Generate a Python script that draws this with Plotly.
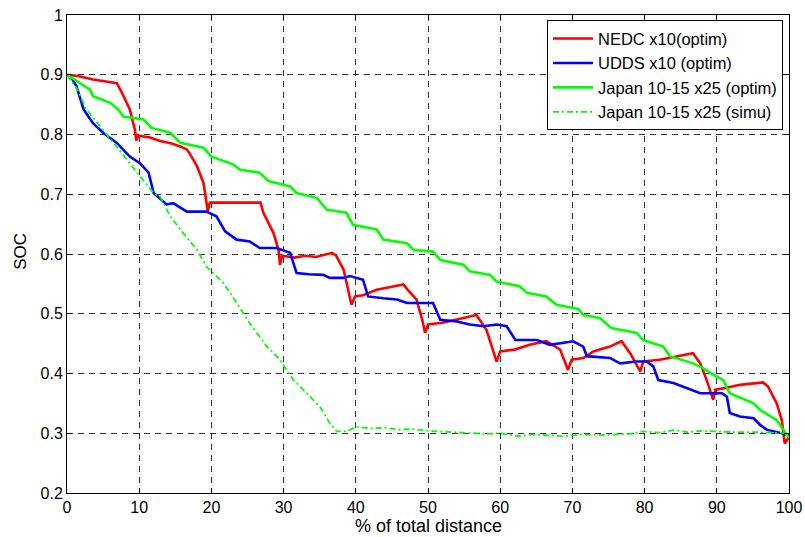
import plotly.graph_objects as go

# ---- data ----
nedc_x = [0, 1.5, 3.6, 5.5, 6.9, 7.6, 8.7, 9.4, 9.6, 9.9, 11.5, 12.9, 14.5, 15.7, 16.6, 17.0, 18, 18.9, 19.3, 19.5,
          19.8, 22, 24, 26.8, 27.2, 28.6, 29.3, 29.5, 29.8, 31.5, 33, 34.5, 36.7, 37.3, 38.3, 39.2, 39.4, 39.9, 41,
          42.9, 44.5, 46.6, 47.2, 48.4, 49.2, 49.6, 50, 52, 54.9, 56.7, 58.1, 59.0, 59.5, 60, 62, 64.1, 66.4, 68.3,
          69.4, 69.9, 71.5, 72.9, 75.2, 76.8, 78, 79.4, 79.8, 82.1, 84.4, 86.7, 87.7, 88.6, 89.5, 89.8, 91.4, 93.2,
          96.4, 97.1, 98.3, 99, 99.4, 100]
nedc_y = [0.9, 0.898, 0.892, 0.889, 0.886, 0.87, 0.842, 0.808, 0.79, 0.798, 0.795, 0.789, 0.785, 0.780, 0.775, 0.768,
          0.747, 0.719, 0.685, 0.672, 0.686, 0.686, 0.685, 0.686, 0.669, 0.635, 0.607, 0.582, 0.597, 0.594, 0.597,
          0.595, 0.602, 0.597, 0.574, 0.529, 0.515, 0.529, 0.531, 0.54, 0.544, 0.549, 0.54, 0.524, 0.49, 0.468, 0.482,
          0.485, 0.493, 0.498, 0.473, 0.44, 0.42, 0.437, 0.44, 0.448, 0.454, 0.44, 0.406, 0.423, 0.426, 0.437, 0.445,
          0.454, 0.434, 0.403, 0.42, 0.423, 0.429, 0.434, 0.417, 0.389, 0.356, 0.373, 0.376, 0.381, 0.385, 0.378,
          0.35, 0.322, 0.283, 0.294]

udds_x = [0, 0.7, 1.3, 2.3, 3.6, 5, 6.9, 8.7, 10.1, 11.3, 12, 13.8, 14.7, 16.6, 19.3, 20.7, 21.9, 23.5, 25.3, 26.7,
          29, 30.9, 31.8, 33.5, 35.5, 36.4, 38.3, 39.2, 41, 41.7, 43.8, 45.7, 47.1, 48.9, 50.7, 51.7, 54, 55.8, 57.7,
          59.5, 60.9, 62.1, 65.1, 66.9, 68.7, 70.1, 71.5, 72, 75.2, 76.6, 78.9, 80.3, 81.2, 81.9, 84, 85.8, 87.7, 90.7,
          91.4, 91.8, 93.2, 95.1, 96, 96.9, 98.8, 100]
udds_y = [0.9, 0.893, 0.881, 0.842, 0.819, 0.803, 0.786, 0.763, 0.752, 0.736, 0.702, 0.683, 0.685, 0.671, 0.671,
          0.663, 0.638, 0.624, 0.621, 0.61, 0.61, 0.602, 0.568, 0.566, 0.565, 0.56, 0.56, 0.563, 0.557, 0.529, 0.526,
          0.524, 0.518, 0.518, 0.518, 0.49, 0.487, 0.482, 0.479, 0.482, 0.479, 0.456, 0.456, 0.448, 0.451, 0.454,
          0.445, 0.429, 0.426, 0.417, 0.42, 0.42, 0.412, 0.389, 0.384, 0.376, 0.367, 0.367, 0.361, 0.334, 0.328,
          0.325, 0.314, 0.306, 0.3, 0.297]

jpn_opt_x = [0, 1.8, 3.2, 3.6, 6, 7.1, 7.8, 10.6, 11.7, 14.3, 15.7, 18.9, 20, 23, 24, 26.7, 27.9, 30.9, 31.8, 34.6,
             36, 38.7, 39.6, 42.9, 43.8, 47.1, 48, 50.7, 51.7, 54.9, 55.8, 58.6, 59.5, 62.7, 63.7, 66.4, 67.8, 70.8,
             71.5, 73.8, 75.4, 78.9, 79.8, 82.6, 83.5, 86.7, 88.1, 89.1, 90.9, 91.8, 95.1, 96, 98.3, 100]
jpn_opt_y = [0.9, 0.886, 0.875, 0.864, 0.853, 0.842, 0.83, 0.825, 0.811, 0.803, 0.786, 0.778, 0.763, 0.75, 0.741,
             0.736, 0.722, 0.713, 0.702, 0.694, 0.674, 0.669, 0.649, 0.641, 0.624, 0.618, 0.607, 0.604, 0.59, 0.582,
             0.571, 0.565, 0.554, 0.546, 0.535, 0.529, 0.515, 0.508, 0.498, 0.493, 0.476, 0.468, 0.456, 0.445, 0.429,
             0.417, 0.409, 0.401, 0.389, 0.367, 0.35, 0.339, 0.322, 0.292]

jpn_sim_x = [0, 1.3, 2.7, 4.6, 6.4, 8.3, 10.1, 12, 12.9, 14.3, 16.1, 18, 19.3, 21.7, 23.5, 25.3, 27.7, 29.5, 31.3,
             33.2, 35, 36.4, 37.4, 38.7, 40.1, 42, 44, 46, 48, 50, 52, 55, 58, 60, 62.7, 64.5, 66.9, 69, 71, 73.8, 76,
             78, 79.8, 82, 84, 86, 88, 90, 92, 95.1, 97, 100]
jpn_sim_y = [0.9, 0.878, 0.842, 0.814, 0.786, 0.758, 0.73, 0.702, 0.696, 0.663, 0.635, 0.607, 0.579, 0.551, 0.518,
             0.484, 0.445, 0.423, 0.39, 0.367, 0.345, 0.317, 0.303, 0.303, 0.311, 0.308, 0.309, 0.306, 0.307, 0.304,
             0.303, 0.301, 0.299, 0.3, 0.295, 0.298, 0.297, 0.295, 0.298, 0.297, 0.298, 0.299, 0.303, 0.301, 0.305,
             0.302, 0.304, 0.303, 0.302, 0.302, 0.301, 0.3]

names = ["NEDC x10(optim)", "UDDS x10 (optim)", "Japan 10-15 x25 (optim)", "Japan 10-15 x25 (simu)"]
x_ticks = [0, 10, 20, 30, 40, 50, 60, 70, 80, 90, 100]
y_ticks = [0.2, 0.3, 0.4, 0.5, 0.6, 0.7, 0.8, 0.9, 1]
y_tick_text = ["0.2", "0.3", "0.4", "0.5", "0.6", "0.7", "0.8", "0.9", "1"]

FONT = "Liberation Sans, Arial, sans-serif"

fig = go.Figure()
fig.add_trace(go.Scatter(x=nedc_x, y=nedc_y, mode="lines", name=names[0],
                         line=dict(color="#ff0000", width=2.6)))
fig.add_trace(go.Scatter(x=udds_x, y=udds_y, mode="lines", name=names[1],
                         line=dict(color="#0000ff", width=2.6)))
fig.add_trace(go.Scatter(x=jpn_opt_x, y=jpn_opt_y, mode="lines", name=names[2],
                         line=dict(color="#00ff00", width=2.6)))
fig.add_trace(go.Scatter(x=jpn_sim_x, y=jpn_sim_y, mode="lines", name=names[3],
                         line=dict(color="#00ff00", width=1.8, dash="6px,3px,2px,3px")))

axis_common = dict(
    showline=True, linecolor="black", linewidth=1, mirror="ticks",
    ticks="inside", ticklen=5, tickcolor="black", tickwidth=1,
    showgrid=True, gridcolor="#333333", gridwidth=1, griddash="6px,5px",
    zeroline=False, automargin=False,
    tickfont=dict(family=FONT, size=16, color="black"),
)

fig.update_xaxes(range=[0, 100], tickvals=x_ticks, **axis_common)
fig.update_yaxes(range=[0.2, 1], tickvals=y_ticks, ticktext=y_tick_text, **axis_common)

fig.update_layout(
    width=805, height=537,
    margin=dict(l=67, r=16, t=15, b=44, autoexpand=False),
    paper_bgcolor="white", plot_bgcolor="white",
    font=dict(family=FONT, size=16, color="black"),
    showlegend=True,
    legend=dict(
        x=0.9917, y=0.989, xanchor="right", yanchor="top",
        bgcolor="white", bordercolor="black", borderwidth=1,
        font=dict(family=FONT, size=16.5, color="black"),
        tracegroupgap=0, itemwidth=40,
    ),
    annotations=[
        dict(text="% of total distance", xref="paper", yref="paper",
             x=(428.5 - 67) / 722, y=-(526 - 493) / 477.5, xanchor="center", yanchor="middle",
             showarrow=False, font=dict(family=FONT, size=18, color="black")),
        dict(text="SOC", xref="paper", yref="paper",
             x=-(67 - 21) / 722, y=1 - (252 - 15.5) / 477.5, xanchor="center", yanchor="middle",
             textangle=-90, showarrow=False, font=dict(family=FONT, size=17, color="black")),
    ],
)

fig.write_html("out.html")
